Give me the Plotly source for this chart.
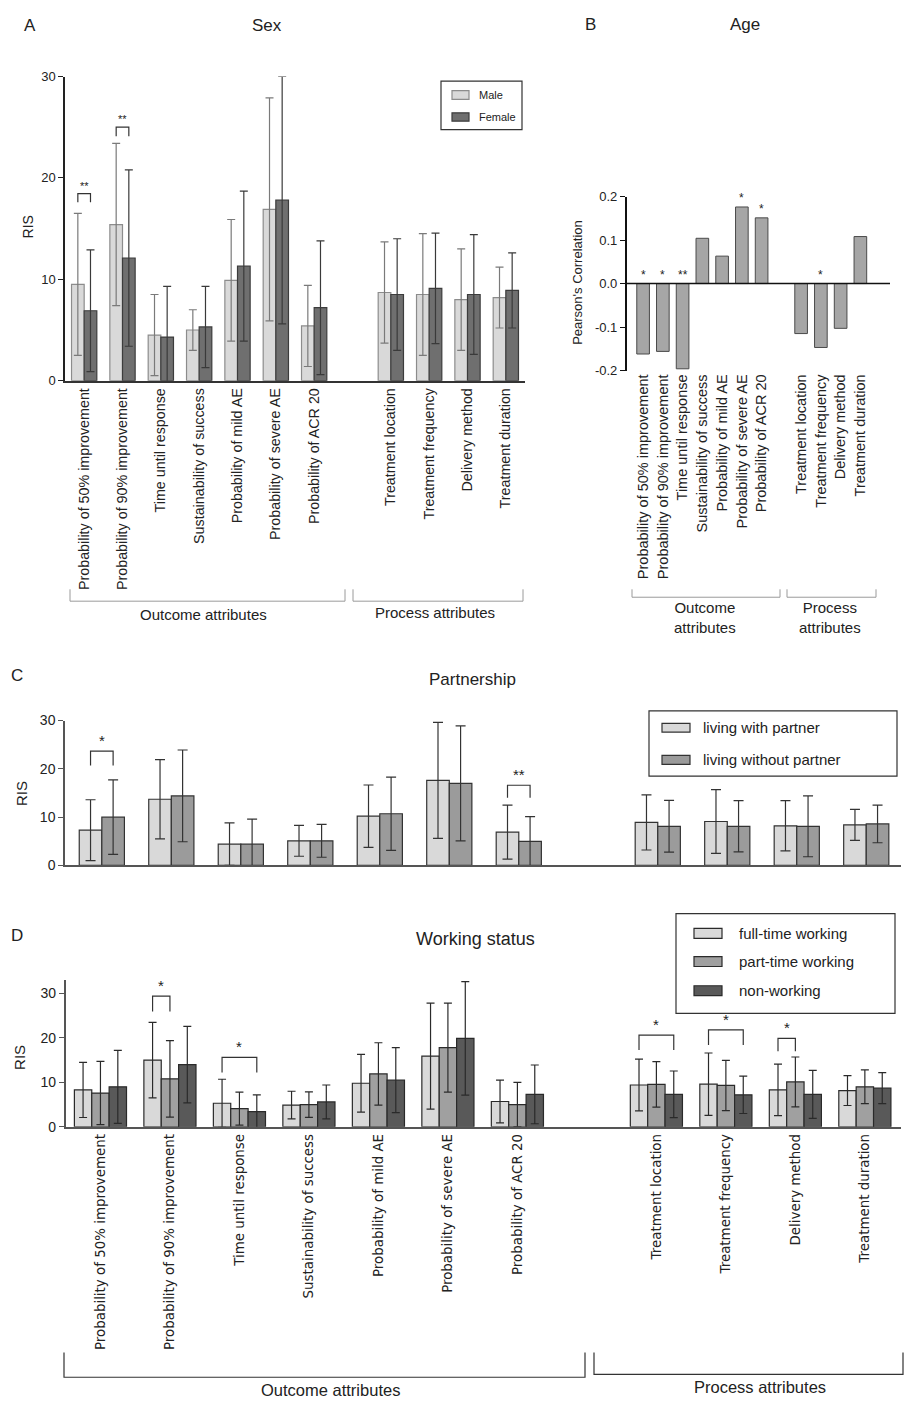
import plotly.graph_objects as go

W, H = 905, 1408


def py(p):
    return 1 - p / H


def px(p):
    return p / W


FONT = "Liberation Sans, Arial, sans-serif"
TXT = "#222222"

attributes = [
    "Probability of 50% improvement", "Probability of 90% improvement",
    "Time until response", "Sustainability of success", "Probability of mild AE",
    "Probability of severe AE", "Probability of ACR 20", "Treatment location",
    "Treatment frequency", "Delivery method", "Treatment duration",
]
# slot 7 is left empty to separate outcome and process attributes
slots = [0, 1, 2, 3, 4, 5, 6, 8, 9, 10, 11]

# A: sex (mean RIS and SD)
male_mean = [9.5, 15.4, 4.5, 5.0, 9.9, 16.9, 5.4, 8.7, 8.5, 8.0, 8.2]
male_sd = [7.0, 8.0, 4.0, 2.0, 6.0, 11.0, 4.0, 5.0, 6.0, 5.0, 3.0]
female_mean = [6.9, 12.1, 4.3, 5.3, 11.3, 17.8, 7.2, 8.5, 9.1, 8.5, 8.9]
female_sd = [6.0, 8.7, 5.0, 4.0, 7.4, 12.2, 6.6, 5.5, 5.45, 5.9, 3.7]

# B: age, Pearson correlation
age_r = [-0.162, -0.156, -0.196, 0.104, 0.063, 0.176, 0.151, -0.115, -0.147, -0.103, 0.108]
age_sig = ["*", "*", "**", "", "", "*", "*", "", "*", "", ""]

# C: partnership
with_mean = [7.3, 13.7, 4.4, 5.1, 10.2, 17.6, 6.9, 8.9, 9.1, 8.2, 8.4]
with_sd = [6.3, 8.2, 4.4, 3.2, 6.45, 12.0, 5.6, 5.7, 6.6, 5.2, 3.2]
without_mean = [10.0, 14.4, 4.4, 5.1, 10.7, 17.0, 5.0, 8.1, 8.1, 8.1, 8.6]
without_sd = [7.7, 9.5, 5.2, 3.4, 7.6, 11.9, 5.1, 5.35, 5.3, 6.3, 3.9]

# D: working status
full_mean = [8.3, 15.0, 5.3, 4.9, 9.8, 15.9, 5.7, 9.4, 9.6, 8.3, 8.15]
full_sd = [6.2, 8.5, 5.4, 3.1, 6.5, 11.9, 4.8, 5.8, 7.0, 5.8, 3.35]
part_mean = [7.6, 10.8, 4.1, 5.0, 11.9, 17.8, 5.0, 9.55, 9.3, 10.1, 9.0]
part_sd = [7.1, 8.6, 3.7, 2.85, 7.0, 10.0, 5.0, 5.1, 5.65, 5.6, 3.8]
non_mean = [9.0, 14.0, 3.4, 5.6, 10.5, 19.9, 7.3, 7.3, 7.2, 7.3, 8.7]
non_sd = [8.2, 8.6, 3.8, 3.8, 7.3, 12.75, 6.6, 5.25, 4.2, 5.4, 3.5]

fig = go.Figure()


def add_group(names, means, sds, fills, lines, errcols, bw, xa, ya, capw):
    n = len(names)
    for k in range(n):
        off = -n * bw / 2 + k * bw
        fig.add_trace(go.Bar(
            x=slots, y=means[k], name=names[k], width=bw, offset=off,
            marker=dict(color=fills[k], line=dict(color=lines[k], width=1.2)),
            error_y=dict(type="data", array=sds[k], color=errcols[k], thickness=1.2, width=capw),
            xaxis=xa, yaxis=ya, showlegend=False,
        ))


def centre(slot, k, n, bw):
    return slot - n * bw / 2 + (k + 0.5) * bw


# Panel A
bwA = 0.33
add_group(["Male", "Female"], [male_mean, female_mean], [male_sd, female_sd],
          ["#d9d9d9", "#6f6f6f"], ["#8c8c8c", "#3c3c3c"], ["#7a7a7a", "#3a3a3a"],
          bwA, "x", "y", 4)

# Panel B
fig.add_trace(go.Bar(
    x=slots, y=age_r, width=0.64, name="Age",
    marker=dict(color="#a6a6a6", line=dict(color="#4a4a4a", width=1)),
    xaxis="x2", yaxis="y2", showlegend=False,
))

# Panel C
bwC = 0.325
add_group(["living with partner", "living without partner"], [with_mean, without_mean],
          [with_sd, without_sd], ["#d9d9d9", "#9b9b9b"], ["#333333", "#333333"],
          ["#333333", "#333333"], bwC, "x3", "y3", 5)

# Panel D
bwD = 0.25
add_group(["full-time working", "part-time working", "non-working"],
          [full_mean, part_mean, non_mean], [full_sd, part_sd, non_sd],
          ["#d9d9d9", "#a0a0a0", "#595959"], ["#2a2a2a"] * 3, ["#2a2a2a"] * 3,
          bwD, "x4", "y4", 4)

shapes = []
annots = []


def text(x, y, s, size, xref="paper", yref="paper", xanchor="center", yanchor="middle",
         angle=0, family=FONT, color=TXT):
    annots.append(dict(x=x, y=y, text=s, xref=xref, yref=yref, xanchor=xanchor,
                       yanchor=yanchor, showarrow=False, textangle=angle,
                       font=dict(family=family, size=size, color=color)))


def sig_bracket(xa, ya, x0, x1, y_leg, y_top, label, size, color="#333333"):
    shapes.append(dict(type="path", xref=xa, yref=ya,
                       path=f"M {x0},{y_leg} L {x0},{y_top} L {x1},{y_top} L {x1},{y_leg}",
                       line=dict(color=color, width=1.2)))
    text((x0 + x1) / 2, y_top, label, size, xref=xa, yref=ya, yanchor="bottom")


def group_bracket(x0, x1, y_line, y_leg, color, width):
    shapes.append(dict(type="path", xref="paper", yref="paper",
                       path=f"M {px(x0)},{py(y_leg)} L {px(x0)},{py(y_line)} L {px(x1)},{py(y_line)} L {px(x1)},{py(y_leg)}",
                       line=dict(color=color, width=width)))


def legend_box(x0, x1, y0, y1, items, sw_x0, sw_x1, text_x, size):
    shapes.append(dict(type="rect", xref="paper", yref="paper", x0=px(x0), x1=px(x1),
                       y0=py(y1), y1=py(y0), line=dict(color="#333333", width=1.2)))
    for label, fill, border, ya, yb in items:
        shapes.append(dict(type="rect", xref="paper", yref="paper", x0=px(sw_x0), x1=px(sw_x1),
                           y0=py(yb), y1=py(ya), fillcolor=fill, line=dict(color=border, width=1.2)))
        text(px(text_x), py((ya + yb) / 2), label, size, xanchor="left")


# ---- Panel A decorations
text(px(30), py(18), "A", 17)
text(px(267), py(18), "Sex", 17)
text(px(28), py(222), "RIS", 14, angle=-90)
sig_bracket("x", "y", centre(0, 0, 2, bwA), centre(0, 1, 2, bwA), 17.6, 18.45, "**", 11)
sig_bracket("x", "y", centre(1, 0, 2, bwA), centre(1, 1, 2, bwA), 24.1, 25.0, "**", 11)
legend_box(441, 522, 74, 123,
           [("Male", "#d9d9d9", "#8c8c8c", 83.5, 92.5), ("Female", "#6f6f6f", "#3c3c3c", 106, 114.5)],
           452, 469, 477, 11)
group_bracket(70, 345, 600, 588, "#9a9a9a", 1)
group_bracket(353, 523, 600, 588, "#9a9a9a", 1)
text(px(203), py(613), "Outcome attributes", 15)
text(px(435), py(611), "Process attributes", 15)

# ---- Panel B decorations
text(px(590), py(17), "B", 17)
text(px(745), py(17), "Age", 17)
text(px(578), py(278), "Pearson's Correlation", 13, angle=-90)
shapes.append(dict(type="line", xref="x2 domain", yref="y2", x0=0, x1=1, y0=0, y1=0,
                   line=dict(color="#111111", width=1.5)))
for s, r, lab in zip(slots, age_r, age_sig):
    if lab:
        text(s, max(r, 0), lab, 12, xref="x2", yref="y2", yanchor="bottom")
group_bracket(632, 780, 596, 588, "#9a9a9a", 1)
group_bracket(787, 876, 596, 588, "#9a9a9a", 1)
text(px(705), py(617), "Outcome<br>attributes", 15)
text(px(830), py(616), "Process<br>attributes", 15)

# ---- Panel C decorations
text(px(17), py(675), "C", 17)
text(px(472), py(679), "Partnership", 17)
text(px(22), py(795), "RIS", 15, angle=-90)
sig_bracket("x3", "y3", centre(0, 0, 2, bwC), centre(0, 1, 2, bwC), 20.7, 23.65, "*", 15)
sig_bracket("x3", "y3", centre(6, 0, 2, bwC), centre(6, 1, 2, bwC), 14.0, 16.6, "**", 15)
legend_box(649, 897, 711, 777,
           [("living with partner", "#d9d9d9", "#333333", 723.5, 732.5),
            ("living without partner", "#9b9b9b", "#333333", 756, 765)],
           662, 690, 701, 15)

# ---- Panel D decorations
text(px(17), py(938), "D", 17)
text(px(475), py(942), "Working status", 18)
text(px(20), py(1062), "RIS", 15, angle=-90)
sig_bracket("x4", "y4", centre(1, 0, 3, bwD), centre(1, 1, 3, bwD), 25.9, 29.4, "*", 15)
sig_bracket("x4", "y4", centre(2, 0, 3, bwD), centre(2, 2, 3, bwD), 12.2, 15.6, "*", 15)
sig_bracket("x4", "y4", centre(8, 0, 3, bwD), centre(8, 2, 3, bwD), 17.3, 20.6, "*", 15)
sig_bracket("x4", "y4", centre(9, 0, 3, bwD), centre(9, 2, 3, bwD), 18.4, 21.8, "*", 15)
sig_bracket("x4", "y4", centre(10, 0, 3, bwD), centre(10, 1, 3, bwD), 17.0, 19.9, "*", 15)
legend_box(676, 895, 916, 1017,
           [("full-time working", "#d9d9d9", "#2a2a2a", 931, 941),
            ("part-time working", "#a0a0a0", "#2a2a2a", 959.5, 969.5),
            ("non-working", "#595959", "#2a2a2a", 989, 999)],
           694, 722, 737, 15)
group_bracket(64, 585, 1385, 1360, "#333333", 1.2)
group_bracket(594, 903, 1382, 1360, "#333333", 1.2)
text(px(330), py(1398), "Outcome attributes", 16.5)
text(px(760), py(1395), "Process attributes", 16.5)

xcommon = dict(tickvals=slots, ticktext=attributes, tickangle=-90, ticks="",
               tickfont=dict(family=FONT, size=14.3, color=TXT), showgrid=False, zeroline=False)
ycommon = dict(ticks="outside", ticklen=5, tickwidth=1.2, showgrid=False, zeroline=False,
               showline=True, tickfont=dict(family=FONT, size=13, color=TXT))

fig.update_layout(
    width=W, height=H, autosize=False,
    margin=dict(l=0, r=0, t=0, b=0),
    paper_bgcolor="white", plot_bgcolor="rgba(0,0,0,0)",
    barmode="overlay", showlegend=False,
    font=dict(family=FONT, color=TXT),
    xaxis=dict(domain=[px(65), px(525)], range=[-0.5, 11.5], anchor="y",
               showline=True, linecolor="#333333", linewidth=1.5, **xcommon),
    yaxis=dict(domain=[py(377), py(69.3)], range=[0, 30], tickvals=[0, 10, 20, 30],
               anchor="x", linecolor="#222222", linewidth=1.5, tickcolor="#222222", **ycommon),
    xaxis2=dict(domain=[px(626.7), px(890)], range=[-0.83, 12.5], anchor="y2",
                showline=False, **{**xcommon, "tickfont": dict(family=FONT, size=14.5, color=TXT)}),
    yaxis2=dict(domain=[py(366.7), py(190.7)], range=[-0.2, 0.2],
                tickvals=[-0.2, -0.1, 0, 0.1, 0.2],
                ticktext=["-0.2", "-0.1", "0.0", "0.1", "0.2"], anchor="x2",
                linecolor="#111111", linewidth=1.5, tickcolor="#111111", **ycommon),
    xaxis3=dict(domain=[px(65), px(901)], range=[-0.53, 11.5], anchor="y3",
                showline=True, linecolor="#555555", linewidth=1.5, showticklabels=False,
                ticks="", showgrid=False, zeroline=False),
    yaxis3=dict(domain=[py(867.3), py(720.7)], range=[0, 30], tickvals=[0, 10, 20, 30],
                anchor="x3", linecolor="#555555", linewidth=1.5, tickcolor="#555555",
                **{**ycommon, "tickfont": dict(family=FONT, size=14, color=TXT)}),
    xaxis4=dict(domain=[px(65.7), px(901)], range=[-0.5, 11.52], anchor="y4",
                showline=True, linecolor="#555555", linewidth=1.5,
                **{**xcommon, "tickfont": dict(family="DejaVu Sans", size=13.4, color=TXT)}),
    yaxis4=dict(domain=[py(1131.7), py(983.2)], range=[0, 33], tickvals=[0, 10, 20, 30],
                anchor="x4", linecolor="#555555", linewidth=1.5, tickcolor="#555555",
                **{**ycommon, "tickfont": dict(family=FONT, size=14, color=TXT)}),
    shapes=shapes,
    annotations=annots,
)

fig.write_html("out.html")
